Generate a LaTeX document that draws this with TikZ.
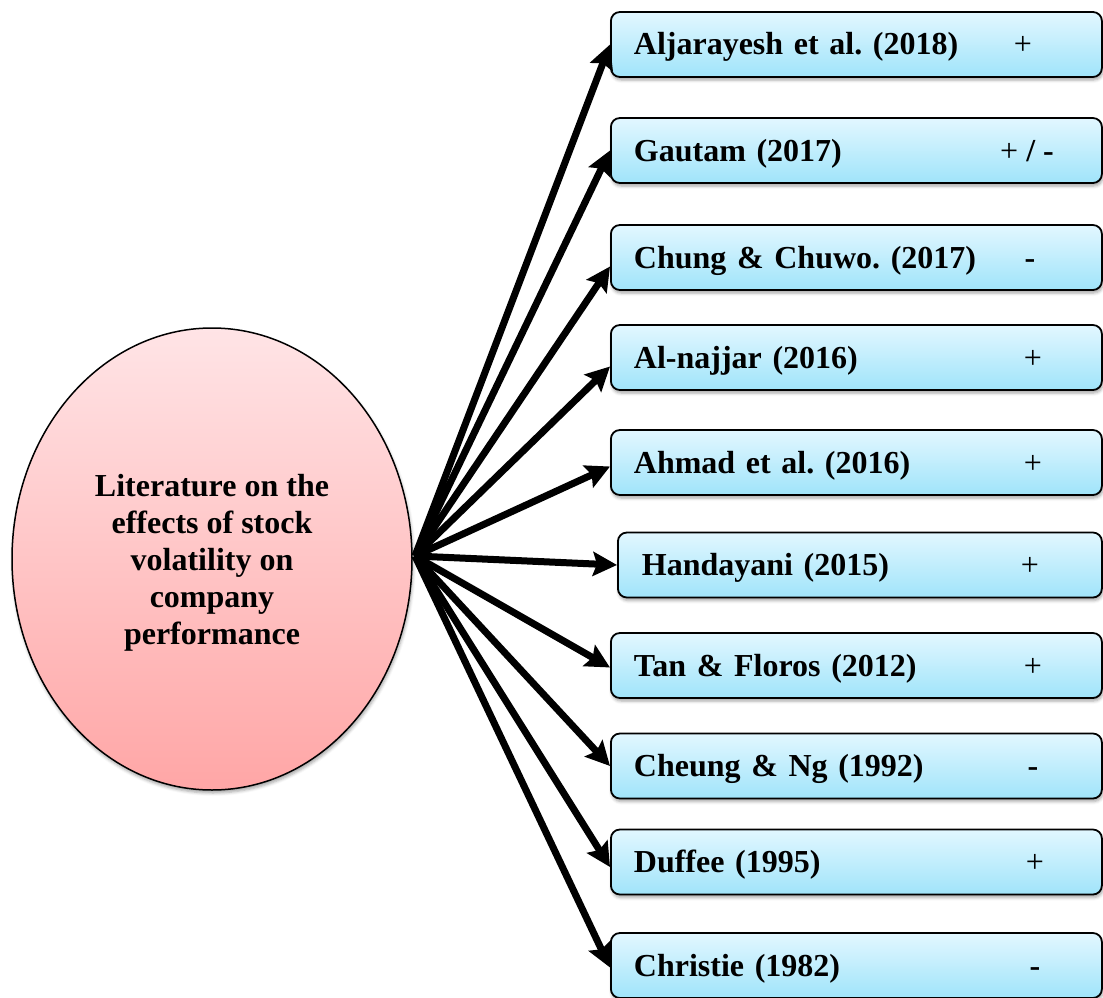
\documentclass[tikz,border=0pt]{standalone}
\usepackage{fontspec}
\setmainfont{Liberation Serif}
\usetikzlibrary{arrows.meta,shapes.geometric,shadows.blur}
\definecolor{boxtop}{RGB}{226,247,255}
\definecolor{boxbot}{RGB}{160,228,250}
\definecolor{ovaltop}{RGB}{255,228,230}
\definecolor{ovalbot}{RGB}{255,166,166}
\newcommand{\plussign}{{\mdseries +}}

\begin{document}
\frenchspacing
\begin{tikzpicture}[x=1pt,y=-1pt,
  every node/.style={font=\fontsize{32}{37}\selectfont\bfseries},
  study/.style={draw=black, line width=1.8pt, rounded corners=9pt,
    top color=boxtop, bottom color=boxbot,
    minimum height=65pt, minimum width=491pt, text width=445pt,
    text height=25pt, text depth=4pt,
    inner xsep=23pt, inner ysep=0pt, align=left, anchor=west,
    blur shadow={shadow xshift=1pt, shadow yshift=-3pt,
      shadow opacity=35, shadow blur radius=3pt}},
  oval/.style={ellipse, draw=black, line width=1.5pt,
    top color=ovaltop, bottom color=ovalbot,
    minimum width=400pt, minimum height=462pt, inner sep=0pt, align=center,
    blur shadow={shadow xshift=1pt, shadow yshift=-3pt,
      shadow opacity=35, shadow blur radius=3pt}},
  sign/.style={inner sep=0pt, text height=25pt, text depth=4pt},
  link/.style={line width=7pt, -{Stealth[length=24pt,width=24pt,inset=4pt]}}
]
\useasboundingbox (0,0) rectangle (1103,998);

% central topic
\node[oval] (lit) at (212,559) {};
\node[align=center, inner sep=0pt] (littext) at (212,563)
  {Literature on the\\effects of stock\\volatility on\\company\\performance};
\coordinate (hub) at (415,556);

% studies
\node[study] (b1)  at (610,44.5)  {Aljarayesh et al. (2018)};
\node[study] (b2)  at (610,150.5) {Gautam (2017)};
\node[study] (b3)  at (610,257.5) {Chung \& Chuwo. (2017)};
\node[study] (b4)  at (610,357.5) {Al-najjar (2016)};
\node[study] (b5)  at (610,462.5) {Ahmad et al. (2016)};
\node[study, minimum width=484pt, text width=436pt, inner xsep=24pt]
             (b6)  at (617,565)   {Handayani (2015)};
\node[study] (b7)  at (610,665.5) {Tan \& Floros (2012)};
\node[study] (b8)  at (610,766)   {Cheung \& Ng (1992)};
\node[study] (b9)  at (610,862)   {Duffee (1995)};
\node[study] (b10) at (610,965.5) {Christie (1982)};

% direction of the reported effect
\node[sign] (s1)  at (1023,44.5)  {\plussign};
\node[sign] (s2)  at (1027,150.5) {\plussign{} / -};
\node[sign] (s3)  at (1030,257.5) {-};
\node[sign] (s4)  at (1033,357.5) {\plussign};
\node[sign] (s5)  at (1033,462.5) {\plussign};
\node[sign] (s6)  at (1030,565)   {\plussign};
\node[sign] (s7)  at (1033,665.5) {\plussign};
\node[sign] (s8)  at (1033,766)   {-};
\node[sign] (s9)  at (1035,862)   {\plussign};
\node[sign] (s10) at (1035,965.5) {-};

% connectors
\draw[link] (hub) -- (b1.west);
\draw[link] (hub) -- (b2.west);
\draw[link] (hub) -- ([yshift=-9pt]b3.west);
\draw[link] (hub) -- ([yshift=-9pt]b4.west);
\draw[link] (hub) -- ([yshift=-4pt]b5.west);
\draw[link] (hub) -- (b6.west);
\draw[link] (hub) -- ([yshift=-2pt]b7.west);
\draw[link] (hub) -- (b8.west);
\draw[link] (hub) -- ([yshift=-5pt]b9.west);
\draw[link] (hub) -- ([yshift=-2pt]b10.west);
\end{tikzpicture}
\end{document}
